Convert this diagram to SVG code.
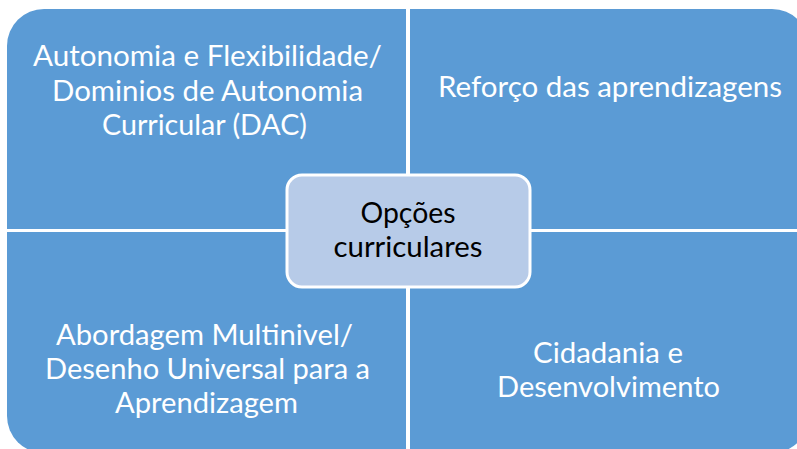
<svg xmlns="http://www.w3.org/2000/svg" width="797" height="449" viewBox="0 0 797 449">
<style>
.q{fill:#5B9BD5;}
.t{font-family:Lato,"Liberation Sans",sans-serif;font-size:29px;fill:#ffffff;text-anchor:middle;}
.c{font-family:Lato,"Liberation Sans",sans-serif;font-size:29px;fill:#000000;text-anchor:middle;}
</style>
<rect width="797" height="449" fill="#ffffff"/>
<g id="q-tl">
<path class="q" d="M7,46 A37,37 0 0 1 44,9 H406 V229 H7 Z"/>
<text class="t" x="207.5" y="66" textLength="349" lengthAdjust="spacingAndGlyphs">Autonomia e Flexibilidade/</text>
<text class="t" x="207.5" y="101" textLength="311" lengthAdjust="spacingAndGlyphs">Dominios de Autonomia</text>
<text class="t" x="204.5" y="135" textLength="205" lengthAdjust="spacingAndGlyphs">Curricular (DAC)</text>
</g>
<g id="q-tr">
<path class="q" d="M410,9 H772 A37,37 0 0 1 809,46 V229 H410 Z"/>
<text class="t" x="610" y="97" textLength="344" lengthAdjust="spacingAndGlyphs">Reforço das aprendizagens</text>
</g>
<g id="q-bl">
<path class="q" d="M7,232 H406 V453 H44 A37,37 0 0 1 7,416 Z"/>
<text class="t" x="204.5" y="345" textLength="297" lengthAdjust="spacingAndGlyphs">Abordagem Multinivel/</text>
<text class="t" x="207.5" y="379" textLength="325" lengthAdjust="spacingAndGlyphs">Desenho Universal para a</text>
<text class="t" x="206.5" y="413" textLength="183" lengthAdjust="spacingAndGlyphs">Aprendizagem</text>
</g>
<g id="q-br">
<path class="q" d="M410,232 H809 V416 A37,37 0 0 1 772,453 H410 Z"/>
<text class="t" x="608" y="363" textLength="150" lengthAdjust="spacingAndGlyphs">Cidadania e</text>
<text class="t" x="608.5" y="397" textLength="223" lengthAdjust="spacingAndGlyphs">Desenvolvimento</text>
</g>
<g id="center">
<rect x="287" y="175" width="243" height="112" rx="15" fill="#B7CBE8" stroke="#ffffff" stroke-width="3"/>
<text class="c" x="408" y="223" textLength="95" lengthAdjust="spacingAndGlyphs">Opções</text>
<text class="c" x="408" y="257" textLength="149" lengthAdjust="spacingAndGlyphs">curriculares</text>
</g>
</svg>
